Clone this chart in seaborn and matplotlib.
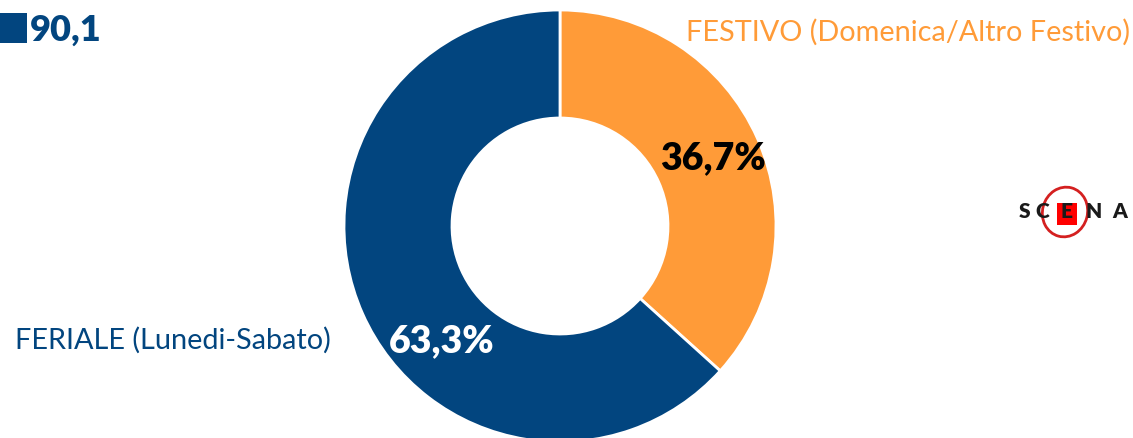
import matplotlib
matplotlib.use("Agg")
import matplotlib.pyplot as plt
import seaborn as sns
from matplotlib.patches import Rectangle, Ellipse

# ---- data ----
categories = ["FESTIVO (Domenica/Altro Festivo)", "FERIALE (Lunedi-Sabato)"]
shares = [36.7, 63.3]
total_label = "90,1"
logo_letters = ["S", "C", "E", "N", "A"]

sns.set_theme(style="white")
plt.rcParams["font.family"] = ["Lato", "DejaVu Sans"]

BLUE = "#02457F"
ORANGE = "#FF9B38"
palette = sns.color_palette([ORANGE, BLUE])

W, H = 1133, 438
fig = plt.figure(figsize=(W / 100, H / 100), dpi=100)
ax = fig.add_axes([0, 0, 1, 1])

cx, cy, R = 560, 212, 216
ax.pie(shares, colors=palette, startangle=90, counterclock=False,
       radius=R, center=(cx, cy), frame=True,
       wedgeprops=dict(width=R / 2, edgecolor="white", linewidth=2))

ax.set_xlim(0, W)
ax.set_ylim(0, H)
ax.set_aspect("equal")
ax.axis("off")

def fmt(v):
    return f"{v:.1f}".replace(".", ",") + "%"

# percentage labels
ax.text(713, 280, fmt(shares[0]), ha="center", va="center",
        fontsize=27, fontweight="heavy", color="black")
ax.text(442, 97, fmt(shares[1]), ha="center", va="center",
        fontsize=27, fontweight="heavy", color="white")

# category labels
ax.text(1130, 406, categories[0], ha="right", va="center",
        fontsize=20.8, color=ORANGE)
ax.text(15, 98, categories[1], ha="left", va="center",
        fontsize=20.8, color=BLUE)

# total with square marker
ax.add_patch(Rectangle((0, 438 - 43), 27, 30, color=BLUE, lw=0))
ax.text(30, 408, total_label, ha="left", va="center",
        fontsize=26, fontweight="heavy", color=BLUE)

# logo
ax.add_patch(Ellipse((1065, 438 - 212), 45, 50, angle=-15, fill=False,
                     edgecolor="#D42020", lw=2))
ax.add_patch(Rectangle((1057, 438 - 225), 20, 22, color="#FF0000", lw=0))
xs = [1025, 1042, 1067, 1094, 1120]
for ch, x in zip(logo_letters, xs):
    ax.text(x, 438 - 212, ch, ha="center", va="center",
            fontsize=15, fontweight="heavy", color="#1a1a1a")

fig.savefig("out.png", dpi=100)
